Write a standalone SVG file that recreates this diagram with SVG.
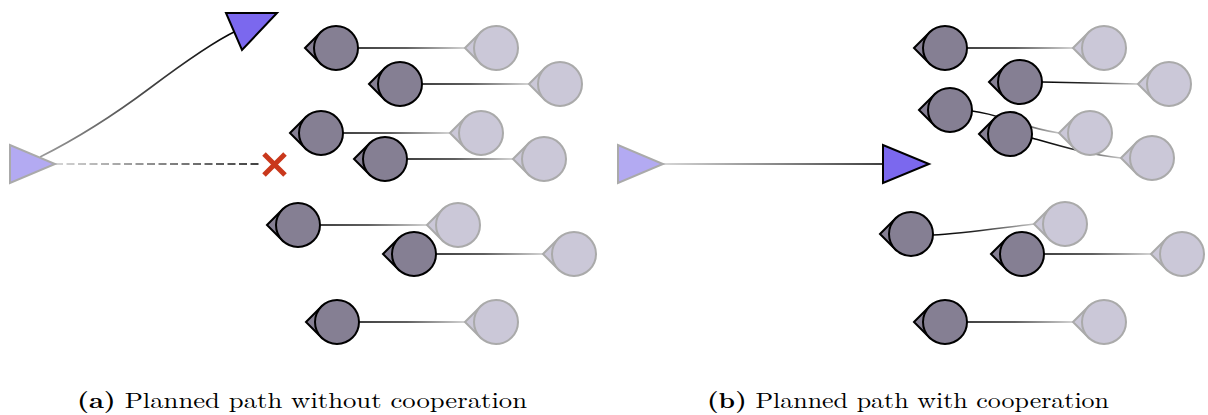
<svg xmlns="http://www.w3.org/2000/svg" xmlns:xlink="http://www.w3.org/1999/xlink" width="1208" height="415" viewBox="0 0 1208 415">
  <style>
    .agent-cur { fill: #857f93; stroke: #000; stroke-width: 2; }
    .agent-goal { fill: #cbc8d8; stroke: #aaaaaa; stroke-width: 2; }
    .start { fill: #b3aaf2; stroke: #aaaaaa; stroke-width: 2; }
    .goal { fill: #7b68ee; stroke: #000; stroke-width: 2; stroke-linejoin: miter; }
    .link { fill: none; stroke-width: 1.6; }
    .caption { font-family: "Latin Modern Roman", "Liberation Serif", "DejaVu Serif", serif; font-size: 22px; fill: #000; }
    .caption .tag { font-weight: bold; }
    .cross { stroke: #c9381c; stroke-width: 5; fill: none; }
  </style>
  <defs>
    <!-- fades from the current position (dark) towards the goal (light) -->
    <linearGradient id="fade">
      <stop offset="0" stop-color="#000"/>
      <stop offset="0.45" stop-color="#2a2a2a"/>
      <stop offset="1" stop-color="#c4c4c4"/>
    </linearGradient>
    <!-- planned path: light at start, black at target -->
    <linearGradient id="rise">
      <stop offset="0" stop-color="#c8c8c8"/>
      <stop offset="1" stop-color="#000"/>
    </linearGradient>
    <linearGradient id="riseGray">
      <stop offset="0" stop-color="#9a9a9a"/>
      <stop offset="1" stop-color="#000"/>
    </linearGradient>

    <linearGradient id="gA1" xlink:href="#fade" gradientUnits="userSpaceOnUse" x1="358" y1="0" x2="465" y2="0"/>
    <linearGradient id="gA2" xlink:href="#fade" gradientUnits="userSpaceOnUse" x1="422" y1="0" x2="529" y2="0"/>
    <linearGradient id="gA3" xlink:href="#fade" gradientUnits="userSpaceOnUse" x1="343" y1="0" x2="450" y2="0"/>
    <linearGradient id="gA4" xlink:href="#fade" gradientUnits="userSpaceOnUse" x1="407" y1="0" x2="513" y2="0"/>
    <linearGradient id="gA5" xlink:href="#fade" gradientUnits="userSpaceOnUse" x1="320" y1="0" x2="427" y2="0"/>
    <linearGradient id="gA6" xlink:href="#fade" gradientUnits="userSpaceOnUse" x1="436" y1="0" x2="543" y2="0"/>
    <linearGradient id="gA7" xlink:href="#fade" gradientUnits="userSpaceOnUse" x1="359" y1="0" x2="465" y2="0"/>

    <linearGradient id="gB1" xlink:href="#fade" gradientUnits="userSpaceOnUse" x1="967" y1="0" x2="1073" y2="0"/>
    <linearGradient id="gB2" xlink:href="#fade" gradientUnits="userSpaceOnUse" x1="1042" y1="0" x2="1138" y2="0"/>
    <linearGradient id="gB3" xlink:href="#fade" gradientUnits="userSpaceOnUse" x1="972" y1="0" x2="1059" y2="0"/>
    <linearGradient id="gB4" xlink:href="#fade" gradientUnits="userSpaceOnUse" x1="1032" y1="0" x2="1121" y2="0"/>
    <linearGradient id="gB5" xlink:href="#fade" gradientUnits="userSpaceOnUse" x1="933" y1="0" x2="1034" y2="0"/>
    <linearGradient id="gB6" xlink:href="#fade" gradientUnits="userSpaceOnUse" x1="1044" y1="0" x2="1151" y2="0"/>
    <linearGradient id="gB7" xlink:href="#fade" gradientUnits="userSpaceOnUse" x1="967" y1="0" x2="1073" y2="0"/>

    <linearGradient id="gPathA" xlink:href="#rise" gradientUnits="userSpaceOnUse" x1="55" y1="0" x2="262" y2="0"/>
    <linearGradient id="gCurveA" xlink:href="#riseGray" gradientUnits="userSpaceOnUse" x1="40" y1="0" x2="236" y2="0"/>
    <linearGradient id="gPathB" xlink:href="#rise" gradientUnits="userSpaceOnUse" x1="663" y1="0" x2="883" y2="0"/>

    <!-- agent glyph: heading wedge under a disc; colours inherit from the using group -->
    <g id="agent">
      <polygon points="-31,0 -15.5,-15.5 -15.5,15.5"/>
      <circle r="22"/>
    </g>
  </defs>

  <!-- connectors -->
  <g id="connectors">
    <!-- panel a -->
    <path class="link" stroke="url(#gA1)" d="M358,48 H465"/>
    <path class="link" stroke="url(#gA2)" d="M422,84 H529"/>
    <path class="link" stroke="url(#gA3)" d="M343,133 H450"/>
    <path class="link" stroke="url(#gA4)" d="M407,159 H513"/>
    <path class="link" stroke="url(#gA5)" d="M320,225 H427"/>
    <path class="link" stroke="url(#gA6)" d="M436,254 H543"/>
    <path class="link" stroke="url(#gA7)" d="M359,322 H465"/>
    <path class="link" stroke="url(#gCurveA)" stroke-width="1.8" d="M40,157 C70,142 110,118 150,88 S215,41 236,31"/>
    <path class="link" stroke="url(#gPathA)" stroke-width="1.8" stroke-dasharray="8,3.5" d="M55,164 H262"/>
    <!-- panel b -->
    <path class="link" stroke="url(#gB1)" d="M967,48 H1073"/>
    <path class="link" stroke="url(#gB2)" d="M1042,82 C1080,82.5 1110,83.5 1138,84"/>
    <path class="link" stroke="url(#gB3)" d="M972,111 C1000,114 1020,127 1059,133"/>
    <path class="link" stroke="url(#gB4)" d="M1032,138 C1060,146 1090,155 1121,158"/>
    <path class="link" stroke="url(#gB5)" d="M933,235 C960,234 1000,228 1034,224"/>
    <path class="link" stroke="url(#gB6)" d="M1044,254 H1151"/>
    <path class="link" stroke="url(#gB7)" d="M967,322 H1073"/>
    <path class="link" stroke="url(#gPathB)" stroke-width="2" d="M663,164 H883"/>
  </g>

  <!-- panel a: robots -->
  <g id="a-start"><polygon class="start" points="10,145 10,183 55,164"/></g>
  <g id="a-goal"><polygon class="goal" points="226,13 277,13 242,50"/></g>
  <g id="a-blocked"><path class="cross" d="M264,154 L285,175 M285,154 L264,175"/></g>

  <g id="a-goals" class="agent-goal">
    <use xlink:href="#agent" x="496" y="48"/>
    <use xlink:href="#agent" x="560" y="84"/>
    <use xlink:href="#agent" x="481" y="133"/>
    <use xlink:href="#agent" x="544" y="159"/>
    <use xlink:href="#agent" x="458" y="225"/>
    <use xlink:href="#agent" x="574" y="254"/>
    <use xlink:href="#agent" x="496" y="322"/>
  </g>
  <g id="a-agents" class="agent-cur">
    <use xlink:href="#agent" x="336" y="48"/>
    <use xlink:href="#agent" x="400" y="84"/>
    <use xlink:href="#agent" x="321" y="133"/>
    <use xlink:href="#agent" x="385" y="159"/>
    <use xlink:href="#agent" x="298" y="225"/>
    <use xlink:href="#agent" x="414" y="254"/>
    <use xlink:href="#agent" x="337" y="322"/>
  </g>

  <!-- panel b: robots -->
  <g id="b-start"><polygon class="start" points="618,145 618,183 663,164"/></g>
  <g id="b-goal"><polygon class="goal" points="883,145 883,183 929,164"/></g>

  <g id="b-goals" class="agent-goal">
    <use xlink:href="#agent" x="1104" y="48"/>
    <use xlink:href="#agent" x="1169" y="84"/>
    <use xlink:href="#agent" x="1090" y="133"/>
    <use xlink:href="#agent" x="1152" y="158"/>
    <use xlink:href="#agent" x="1065" y="224"/>
    <use xlink:href="#agent" x="1182" y="254"/>
    <use xlink:href="#agent" x="1104" y="322"/>
  </g>
  <g id="b-agents" class="agent-cur">
    <use xlink:href="#agent" x="945" y="48"/>
    <use xlink:href="#agent" x="1020" y="82"/>
    <use xlink:href="#agent" x="950" y="110"/>
    <use xlink:href="#agent" x="1010" y="134"/>
    <use xlink:href="#agent" x="911" y="234"/>
    <use xlink:href="#agent" x="1022" y="254"/>
    <use xlink:href="#agent" x="945" y="322"/>
  </g>

  <!-- captions -->
  <g id="captions">
    <text class="caption" x="77" y="408" textLength="450" lengthAdjust="spacingAndGlyphs"><tspan class="tag">(a)</tspan> Planned path without cooperation</text>
    <text class="caption" x="707" y="408" textLength="402" lengthAdjust="spacingAndGlyphs"><tspan class="tag">(b)</tspan> Planned path with cooperation</text>
  </g>
</svg>
